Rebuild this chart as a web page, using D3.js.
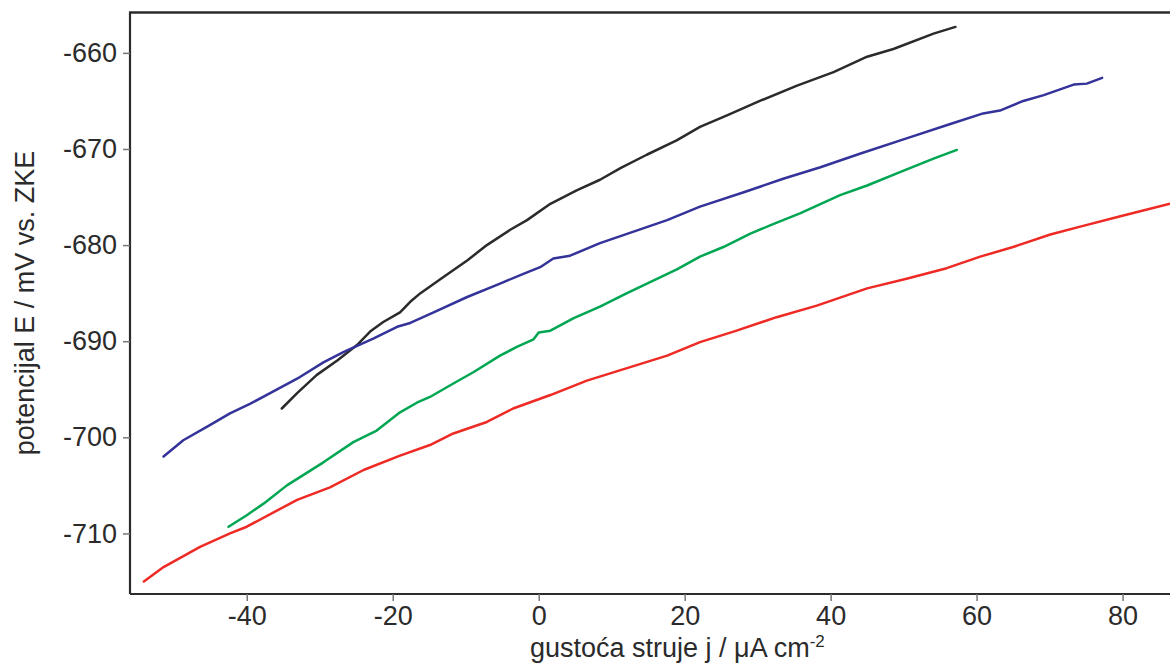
<!DOCTYPE html>
<html><head><meta charset="utf-8">
<script src="https://cdn.jsdelivr.net/npm/d3@7"></script>
<style>body{margin:0;background:#fff}svg{display:block}text{font-family:"Liberation Sans",Arial,sans-serif;fill:#2b2b2b}</style>
</head><body>
<svg id="c" width="1170" height="663"></svg>
<script>
const xTicks = [-40, -20, 0, 20, 40, 60, 80];
const yTicks = [-660, -670, -680, -690, -700, -710];
const xTitle = "gustoća struje j / μA cm";
const xTitleSup = "-2";
const yTitle = "potencijal E / mV vs. ZKE";

const blackJ = [-35.2,-33.1,-30.4,-27.6,-24.9,-23.1,-21.3,-19.0,-17.6,-16.2,-13.0,-9.8,-7.1,-3.9,-1.6,1.6,5.2,8.4,11.2,14.8,18.9,22.1,25.8,30.3,35.4,40.4,45.0,48.6,54.1,57.1];
const blackE = [-697.0,-695.4,-693.5,-692.0,-690.4,-689.0,-688.0,-687.0,-685.9,-685.0,-683.3,-681.6,-680.0,-678.4,-677.4,-675.7,-674.3,-673.2,-672.0,-670.6,-669.1,-667.7,-666.5,-665.0,-663.4,-662.0,-660.4,-659.6,-658.0,-657.3];

const blueJ = [-51.4,-48.7,-45.0,-42.3,-39.5,-36.8,-33.1,-29.5,-26.7,-22.6,-19.4,-17.6,-14.4,-9.8,-5.3,-2.1,0.2,2.0,4.3,8.4,13.0,17.6,22.1,28.1,33.5,38.6,44.0,50.4,56.4,60.9,63.2,66.4,69.2,73.3,75.1,77.2];
const blueE = [-702.0,-700.3,-698.7,-697.5,-696.5,-695.4,-693.9,-692.2,-691.1,-689.7,-688.5,-688.1,-687.0,-685.4,-684.0,-683.0,-682.3,-681.4,-681.1,-679.8,-678.6,-677.4,-676.0,-674.5,-673.1,-671.9,-670.5,-668.9,-667.4,-666.3,-666.0,-665.0,-664.4,-663.3,-663.2,-662.6];

const greenJ = [-42.5,-40.0,-37.7,-34.5,-29.5,-25.4,-22.2,-19.0,-16.7,-14.9,-11.7,-8.9,-5.3,-3.0,-0.7,0.0,1.6,4.8,8.4,12.1,15.7,19.0,22.1,25.3,29.0,32.2,35.8,41.3,45.0,49.5,54.1,57.3];
const greenE = [-709.3,-708.1,-706.9,-705.0,-702.6,-700.5,-699.3,-697.4,-696.4,-695.8,-694.4,-693.2,-691.5,-690.6,-689.8,-689.1,-688.9,-687.6,-686.4,-685.0,-683.7,-682.5,-681.2,-680.2,-678.8,-677.8,-676.7,-674.8,-673.8,-672.4,-671.0,-670.1];

const redJ = [-54.1,-51.4,-46.4,-42.3,-40.0,-33.1,-28.6,-24.0,-19.0,-14.9,-11.7,-7.1,-3.5,1.6,6.6,12.1,17.6,22.1,26.7,32.6,38.1,45.0,50.4,55.9,60.5,65.0,70.1,74.6,79.7,86.5];
const redE = [-715.0,-713.5,-711.4,-710.0,-709.3,-706.5,-705.2,-703.4,-701.9,-700.8,-699.6,-698.4,-697.0,-695.6,-694.1,-692.8,-691.5,-690.1,-689.0,-687.5,-686.3,-684.5,-683.5,-682.4,-681.2,-680.2,-678.9,-678.0,-677.0,-675.7];

const series = [
  {j: blackJ, e: blackE, color: "#2b2b2b"},
  {j: blueJ, e: blueE, color: "#33339a"},
  {j: greenJ, e: greenE, color: "#00a651"},
  {j: redJ, e: redE, color: "#ee2a24"}
];

const L = 130, R = 1170, T = 12.5, B = 594;
const x = d3.scaleLinear().domain([-56, 86.5]).range([L, R]);
const y = d3.scaleLinear().domain([-716.3, -655.8]).range([B, T]);

const svg = d3.select("#c");
svg.append("defs").append("clipPath").attr("id","clip")
  .append("rect").attr("x", L).attr("y", T).attr("width", R - L).attr("height", B - T);

const line = d3.line().x(d => x(d[0])).y(d => y(d[1]));
const g = svg.append("g").attr("clip-path","url(#clip)");
series.forEach(s => {
  const pts = s.j.map((v,i) => [v, s.e[i]]);
  g.append("path").datum(pts).attr("d", line)
    .attr("fill","none").attr("stroke", s.color).attr("stroke-width", 2.5)
    .attr("stroke-linejoin","round").attr("stroke-linecap","round");
});

// axes
const xa = svg.append("g").attr("transform", `translate(0,${B})`)
  .call(d3.axisBottom(x).tickValues(xTicks).tickSize(7).tickPadding(6).tickSizeOuter(0).tickFormat(d3.format("d")));
const ya = svg.append("g").attr("transform", `translate(${L},0)`)
  .call(d3.axisLeft(y).tickValues(yTicks).tickSize(7).tickPadding(6).tickSizeOuter(0).tickFormat(d3.format("d")));
[xa, ya].forEach(a => {
  a.select(".domain").attr("stroke","#2b2b2b").attr("stroke-width",2.2);
  a.selectAll(".tick line").attr("stroke","#777").attr("stroke-width",1.5);
  a.selectAll(".tick text").style("font-size","27px").attr("fill","#2b2b2b").text(function(d){return d3.format("d")(d).replace("−","-");});
});
xa.select(".domain").attr("d", `M${L},0H${R}`);
ya.select(".domain").attr("d", `M0,${T}V${B}`);
xa.selectAll(".tick text").attr("dy", null).attr("y", 31);

// top frame line
svg.append("line").attr("x1", L - 1).attr("x2", R).attr("y1", T).attr("y2", T)
  .attr("stroke","#2b2b2b").attr("stroke-width",2.4);

// titles
const xt = svg.append("text").attr("x", 530).attr("y", 657).style("font-size","27px");
xt.append("tspan").text(xTitle);
xt.append("tspan").attr("dy", -10).style("font-size","17px").text(xTitleSup);

svg.append("text").attr("transform", "translate(34,303) rotate(-90)")
  .attr("text-anchor","middle").style("font-size","27px").text(yTitle);
</script>
</body></html>
